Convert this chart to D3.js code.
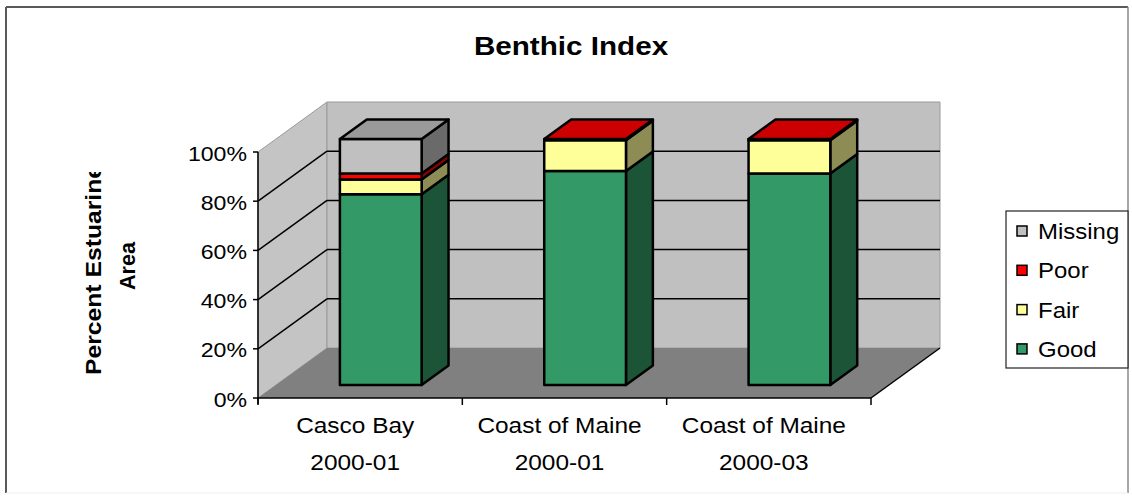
<!DOCTYPE html>
<html>
<head>
<meta charset="utf-8">
<title>Benthic Index</title>
<script src="https://d3js.org/d3.v7.min.js"></script>
<style>
  body { margin: 0; background: #fff; }
  text { font-family: Arial, "Liberation Sans", sans-serif; fill: #000; }
</style>
</head>
<body>
<div id="chart"></div>
<script>
// data
var sites   = ["Casco Bay", "Coast of Maine", "Coast of Maine"];
var periods = ["2000-01", "2000-01", "2000-03"];
var good    = [77.5, 87, 86];
var fair    = [6, 12.5, 13.5];
var poor    = [2.5, 0.5, 0.5];
var missing = [14, 0, 0];
var yTicks  = [0, 20, 40, 60, 80, 100];
var seriesNames = ["Good", "Fair", "Poor", "Missing"];
var seriesColors = ["#339966", "#ffff99", "#ff0000", "#c0c0c0"];

var W = 1132, H = 498;
var svg = d3.select("#chart").append("svg")
  .attr("width", W).attr("height", H);

// shade a colour by a factor
function shade(c, k) {
  var r = d3.rgb(c);
  return d3.rgb(r.r * k, r.g * k, r.b * k).formatHex();
}
// horizontally stretched text, like the source rendering
function label(g, x, y, str, size, weight, anchor, sx) {
  return g.append("text")
    .attr("transform", "translate(" + x + "," + y + ") scale(" + (sx || 1.1) + ",1)")
    .attr("text-anchor", anchor || "start")
    .style("font-size", size + "px")
    .style("font-weight", weight || "normal")
    .text(str);
}

// outer frame
svg.append("line").attr("x1", 6).attr("y1", 7).attr("x2", 1128).attr("y2", 7).attr("stroke", "#5a5a5a").attr("stroke-width", 2);
svg.append("line").attr("x1", 6).attr("y1", 7).attr("x2", 6).attr("y2", 493).attr("stroke", "#5a5a5a").attr("stroke-width", 2);
svg.append("line").attr("x1", 1128).attr("y1", 7).attr("x2", 1128).attr("y2", 493).attr("stroke", "#8a8a8a").attr("stroke-width", 1.5);
svg.append("line").attr("x1", 6).attr("y1", 493).attr("x2", 1128).attr("y2", 493).attr("stroke", "#eeeeee").attr("stroke-width", 1);

// scales: front plane, plus a depth vector
var cats = d3.range(sites.length);
var x = d3.scaleBand().domain(cats).range([258, 871]);
var y = d3.scaleLinear().domain([0, 100]).range([398, 152]);
var DX = 69, DY = -50;          // full depth of the plot box
var f1 = 0.26, f2 = 0.65;       // bar front / back depth

var x0 = x.range()[0], x1 = x.range()[1];
function pts(a) { return a.map(function(p) { return p.join(","); }).join(" "); }

// walls and floor
svg.append("polygon")
  .attr("points", pts([[x0, y(0)], [x0, y(100)], [x0 + DX, y(100) + DY], [x0 + DX, y(0) + DY]]))
  .attr("fill", "#c4c4c4").attr("stroke", "#9a9a9a").attr("stroke-width", 1);
svg.append("polygon")
  .attr("points", pts([[x0 + DX, y(100) + DY], [x1 + DX, y(100) + DY], [x1 + DX, y(0) + DY], [x0 + DX, y(0) + DY]]))
  .attr("fill", "#c0c0c0").attr("stroke", "#9a9a9a").attr("stroke-width", 1);
svg.append("polygon")
  .attr("points", pts([[x0, y(0)], [x1, y(0)], [x1 + DX, y(0) + DY], [x0 + DX, y(0) + DY]]))
  .attr("fill", "#808080");

// gridlines on the walls
var grid = yTicks.filter(function(v) { return v > 0 && v < 100; });
svg.selectAll(".gside").data(grid).enter().append("line")
  .attr("x1", x0).attr("y1", function(d) { return y(d); })
  .attr("x2", x0 + DX).attr("y2", function(d) { return y(d) + DY; })
  .attr("stroke", "#000").attr("stroke-width", 1.5);
svg.selectAll(".gback").data(grid).enter().append("line")
  .attr("x1", x0 + DX).attr("y1", function(d) { return y(d) + DY; })
  .attr("x2", x1 + DX).attr("y2", function(d) { return y(d) + DY; })
  .attr("stroke", "#000").attr("stroke-width", 1.5);
// right floor edge
svg.append("line").attr("x1", x1).attr("y1", y(0)).attr("x2", x1 + DX).attr("y2", y(0) + DY)
  .attr("stroke", "#000").attr("stroke-width", 1.5);

// bars
var seriesVals = [good, fair, poor, missing];
var bw = x.bandwidth() * 0.40;
var bdx = DX * (f2 - f1), bdy = DY * (f2 - f1);
cats.forEach(function(i) {
  var xl = x(i) + x.bandwidth() * 0.313 + DX * f1;
  var xr = xl + bw;
  var yb = function(v) { return y(v) + DY * f1; };
  var g = svg.append("g")
    .attr("stroke", "#000").attr("stroke-width", 2.5).attr("stroke-linejoin", "round");
  var acc = 0, topColor = null;
  seriesVals.forEach(function(s, k) {
    var v = s[i];
    if (v <= 0) return;
    var ya = yb(acc), yt = yb(acc + v);
    g.append("polygon")
      .attr("points", pts([[xr, ya], [xr, yt], [xr + bdx, yt + bdy], [xr + bdx, ya + bdy]]))
      .attr("fill", shade(seriesColors[k], 0.55));
    g.append("rect")
      .attr("x", xl).attr("y", yt).attr("width", bw).attr("height", ya - yt)
      .attr("fill", seriesColors[k]);
    acc += v;
    topColor = seriesColors[k];
  });
  var yt = yb(acc);
  g.append("polygon")
    .attr("points", pts([[xl, yt], [xr, yt], [xr + bdx, yt + bdy], [xl + bdx, yt + bdy]]))
    .attr("fill", shade(topColor, 0.8));
});

// front axes
var axG = svg.append("g").attr("stroke", "#000").attr("stroke-width", 1.5);
axG.append("line").attr("x1", x0).attr("y1", y(100)).attr("x2", x0).attr("y2", y(0) + 6);
axG.append("line").attr("x1", x0).attr("y1", y(0)).attr("x2", x1).attr("y2", y(0));
axG.selectAll(".yt").data(yTicks).enter().append("line")
  .attr("x1", x0 - 5).attr("x2", x0)
  .attr("y1", function(d) { return y(d); }).attr("y2", function(d) { return y(d); });
axG.selectAll(".xt").data(cats.concat([cats.length])).enter().append("line")
  .attr("x1", function(d) { return x0 + d * x.step(); })
  .attr("x2", function(d) { return x0 + d * x.step(); })
  .attr("y1", y(0)).attr("y2", y(0) + 7);

// tick labels
yTicks.forEach(function(v) {
  label(svg, 247, y(v) + 8.5, v + "%", 21, "normal", "end", 1.1);
});
cats.forEach(function(i) {
  var cx = x(i) + x.bandwidth() / 2 - 5;
  label(svg, cx, 433, sites[i], 22, "normal", "middle", 1.11);
  label(svg, cx, 470, periods[i], 22, "normal", "middle", 1.11);
});

// title
label(svg, 571, 55, "Benthic Index", 26, "bold", "middle", 1.14);

// y axis title (clipped at the top as in the source)
svg.append("clipPath").attr("id", "yclip")
  .append("rect").attr("x", 0).attr("y", 172).attr("width", 160).attr("height", 320);
svg.append("g").attr("clip-path", "url(#yclip)")
  .append("text")
  .attr("transform", "translate(101,270) rotate(-90)")
  .attr("text-anchor", "middle")
  .attr("textLength", 210).attr("lengthAdjust", "spacingAndGlyphs")
  .style("font-size", "22px").style("font-weight", "bold")
  .text("Percent Estuarine");
svg.append("text")
  .attr("transform", "translate(135,266) rotate(-90)")
  .attr("text-anchor", "middle")
  .attr("textLength", 48).attr("lengthAdjust", "spacingAndGlyphs")
  .style("font-size", "22px").style("font-weight", "bold")
  .text("Area");

// legend
var leg = svg.append("g");
leg.append("rect").attr("x", 1006).attr("y", 211).attr("width", 122).attr("height", 157)
  .attr("fill", "#fff").attr("stroke", "#222").attr("stroke-width", 1.2);
var order = [3, 2, 1, 0];
order.forEach(function(k, j) {
  var cy = 231 + j * 39.3;
  leg.append("rect").attr("x", 1017).attr("y", cy - 5).attr("width", 10).attr("height", 10)
    .attr("fill", seriesColors[k]).attr("stroke", "#000").attr("stroke-width", 1.5);
  label(leg, 1038, cy + 8, seriesNames[k], 22, "normal", "start", 1.09);
});
</script>
</body>
</html>
